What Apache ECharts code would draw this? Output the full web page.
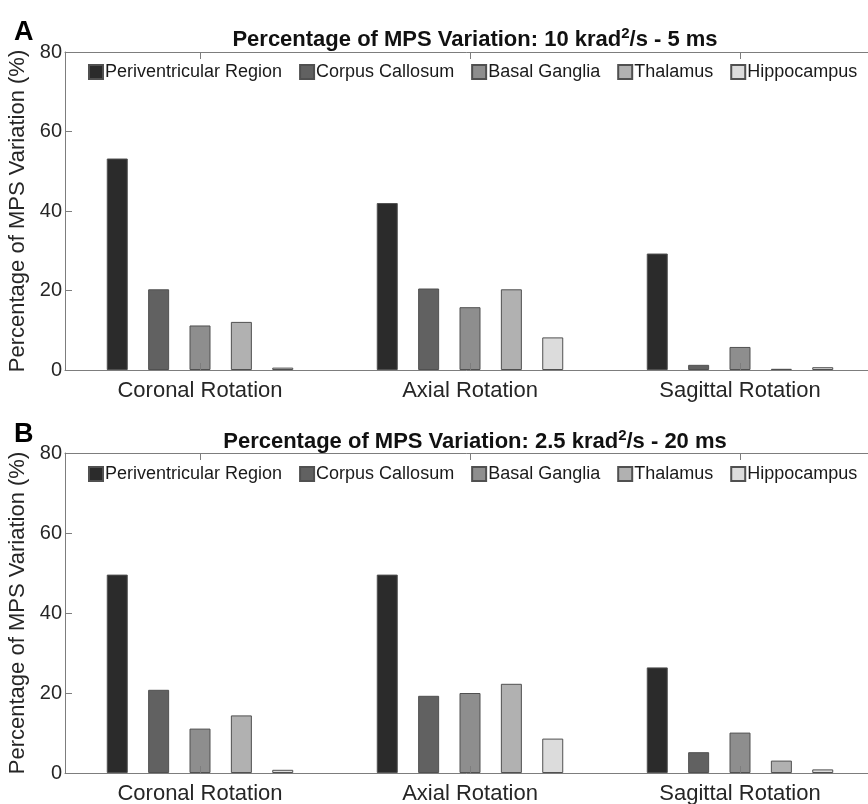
<!DOCTYPE html>
<html>
<head>
<meta charset="utf-8">
<script src="https://cdn.jsdelivr.net/npm/echarts@6/dist/echarts.min.js"></script>
<style>
  html, body { margin: 0; padding: 0; background: #fff; }
  #chart { width: 868px; height: 804px; }
</style>
</head>
<body>
<div id="chart"></div>
<script>
// categories and series names
const rotations = ['Coronal Rotation', 'Axial Rotation', 'Sagittal Rotation']
const regions = ['Periventricular Region', 'Corpus Callosum', 'Basal Ganglia', 'Thalamus', 'Hippocampus']
const yTicks = [0, 20, 40, 60, 80]

// panel A: 10 krad^2/s - 5 ms
const aPeriventricular = [53.2, 42.0, 29.3]
const aCorpusCallosum = [20.3, 20.5, 1.3]
const aBasalGanglia = [11.2, 15.8, 5.8]
const aThalamus = [12.1, 20.3, 0.3]
const aHippocampus = [0.6, 8.2, 0.7]

// panel B: 2.5 krad^2/s - 20 ms
const bPeriventricular = [49.6, 49.6, 26.4]
const bCorpusCallosum = [20.8, 19.3, 5.2]
const bBasalGanglia = [11.1, 20.0, 10.1]
const bThalamus = [14.4, 22.3, 3.1]
const bHippocampus = [0.8, 8.6, 0.9]

const fills = ['#2b2b2b', '#616161', '#8e8e8e', '#b1b1b1', '#dcdcdc']
const axisClr = '#7d7d7d'
const font = 'Liberation Sans, Arial, sans-serif'

const mychart = echarts.init(document.getElementById('chart'))

function makeX (gridIndex, top) {
  return {
    type: 'category',
    gridIndex: gridIndex,
    position: top ? 'top' : 'bottom',
    data: rotations,
    z: 5,
    axisLine: { lineStyle: { color: axisClr, width: 1 } },
    axisTick: { show: true, inside: true, length: 7, alignWithLabel: true, lineStyle: { color: axisClr } },
    axisLabel: {
      show: !top,
      color: '#262626',
      fontSize: 22,
      fontFamily: font,
      margin: 10
    },
    splitLine: { show: false }
  }
}

function makeY (gridIndex) {
  return {
    type: 'value',
    gridIndex: gridIndex,
    min: 0,
    max: 80,
    interval: 20,
    name: 'Percentage of MPS Variation (%)',
    nameLocation: 'middle',
    nameGap: 33,
    nameTextStyle: { color: '#262626', fontSize: 22, fontFamily: font },
    axisLine: { show: true, lineStyle: { color: axisClr } },
    axisTick: { show: true, inside: true, length: 7, lineStyle: { color: axisClr } },
    axisLabel: {
      color: '#262626',
      fontSize: 20,
      fontFamily: font,
      margin: 3,
      formatter: function (v) { return yTicks.indexOf(v) >= 0 ? String(v) : '' }
    },
    splitLine: { show: false }
  }
}

function makeSeries (values, xIdx, yIdx) {
  return values.map(function (arr, i) {
    return {
      name: regions[i],
      type: 'bar',
      xAxisIndex: xIdx,
      yAxisIndex: yIdx,
      barWidth: 21,
      barGap: '97%',
      data: arr,
      itemStyle: { color: fills[i], borderColor: '#505050', borderWidth: 1 }
    }
  })
}

function makeLegend (top) {
  return {
    data: regions,
    left: 88,
    top: top,
    icon: 'rect',
    itemWidth: 14,
    itemHeight: 14,
    itemGap: 17,
    padding: 0,
    textStyle: { color: '#1a1a1a', fontSize: 18, fontFamily: font, padding: [0, 0, 0, -3] },
    selectedMode: false
  }
}

function makeTitle (top, pre, post) {
  return {
    text: '{a|' + pre + '}{s|2}{a|' + post + '}',
    left: 470,
    top: top,
    textAlign: 'center',
    textStyle: {
      rich: {
        a: { fontSize: 22, fontWeight: 'bold', color: '#111', fontFamily: font, lineHeight: 28 },
        s: { fontSize: 15, fontWeight: 'bold', color: '#111', fontFamily: font, lineHeight: 28, padding: [0, 0, 13, 0] }
      }
    }
  }
}

const myoption = {
  backgroundColor: '#fff',
  animation: false,
  title: [
    makeTitle(21, 'Percentage of MPS Variation: 10 krad', '/s - 5 ms'),
    makeTitle(423, 'Percentage of MPS Variation: 2.5 krad', '/s - 20 ms'),
    { text: 'A', left: 9, top: 14, textStyle: { fontSize: 27, fontWeight: 'bold', color: '#000', fontFamily: font } },
    { text: 'B', left: 9, top: 416, textStyle: { fontSize: 27, fontWeight: 'bold', color: '#000', fontFamily: font } }
  ],
  legend: [makeLegend(63), makeLegend(465)],
  grid: [
    { left: 65, width: 810, top: 52, height: 318, outerBoundsMode: 'none' },
    { left: 65, width: 810, top: 453, height: 320, outerBoundsMode: 'none' }
  ],
  xAxis: [makeX(0, false), makeX(0, true), makeX(1, false), makeX(1, true)],
  yAxis: [makeY(0), makeY(1)],
  series: []
    .concat(makeSeries([aPeriventricular, aCorpusCallosum, aBasalGanglia, aThalamus, aHippocampus], 0, 0))
    .concat(makeSeries([bPeriventricular, bCorpusCallosum, bBasalGanglia, bThalamus, bHippocampus], 2, 1))
}

mychart.setOption(myoption)
</script>
</body>
</html>
